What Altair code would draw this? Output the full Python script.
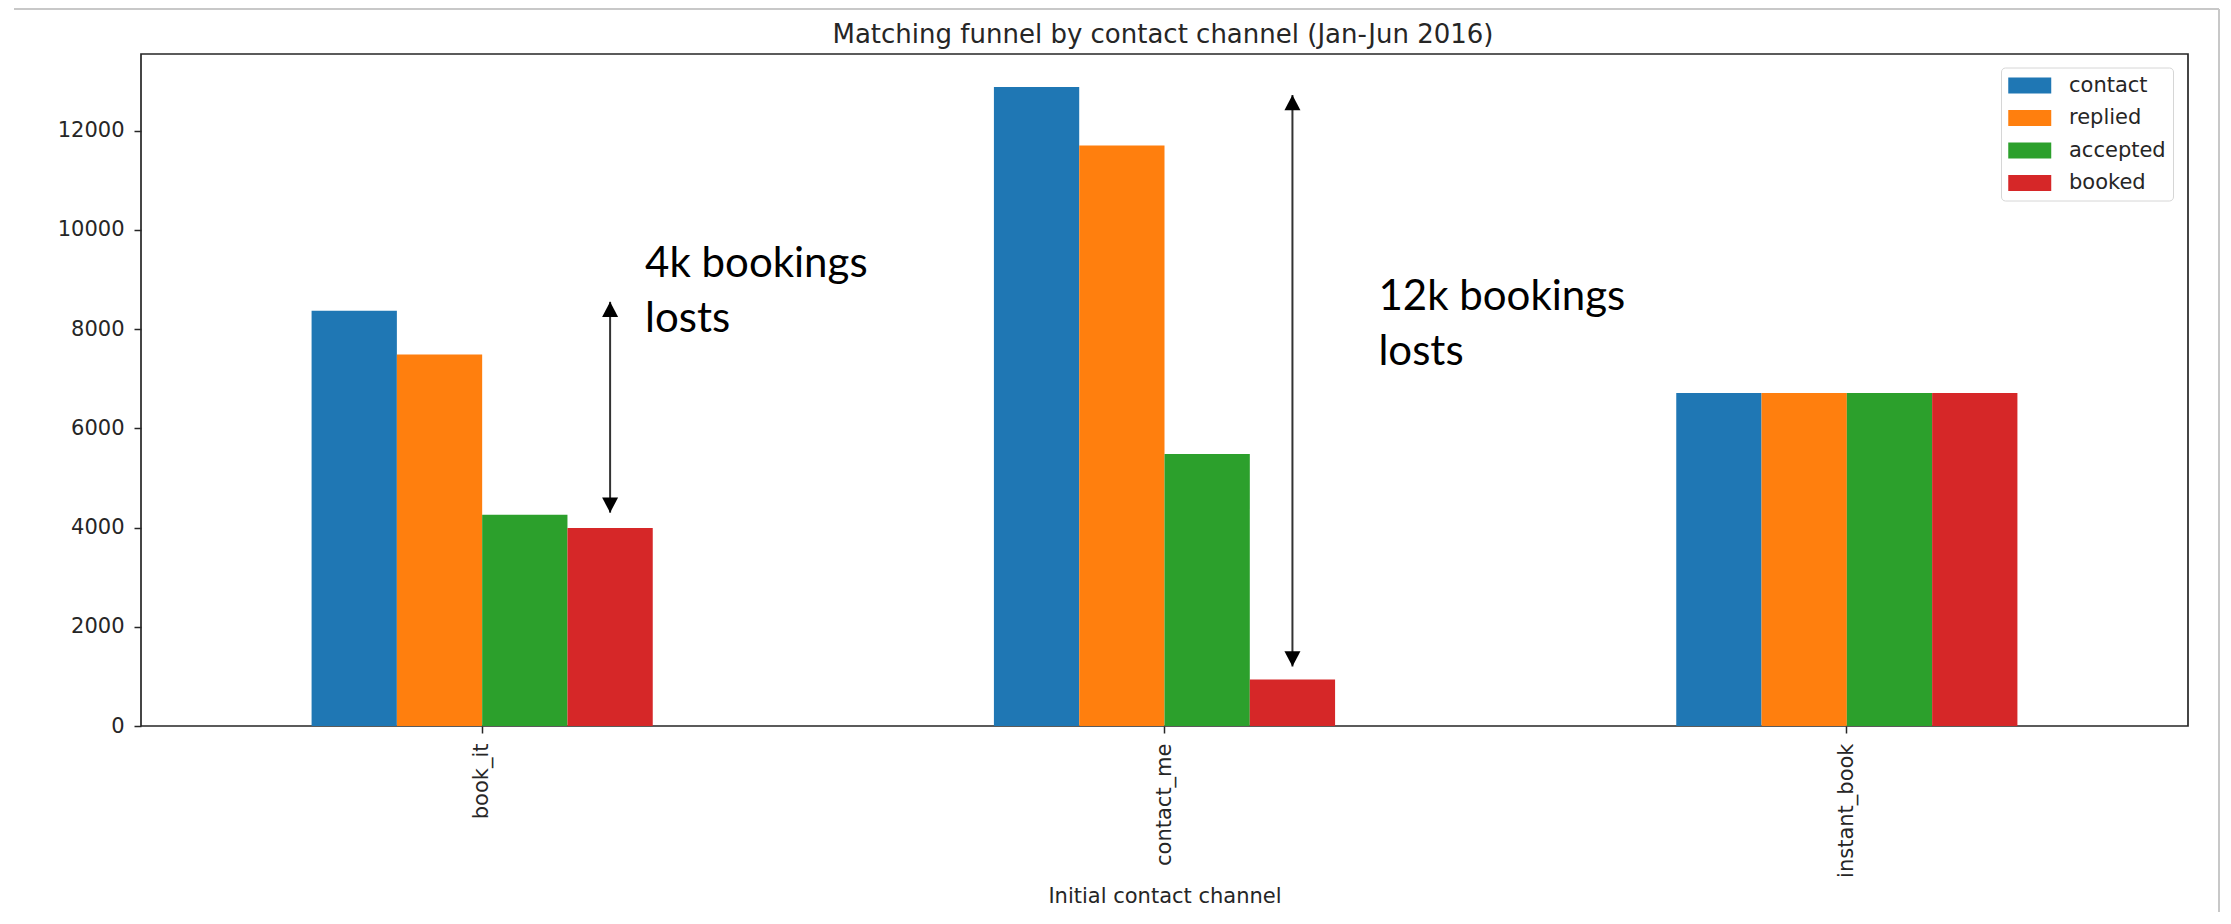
import altair as alt
import pandas as pd

# ---- data ----
channels = ["book_it", "contact_me", "instant_book"]
stages = ["contact", "replied", "accepted", "booked"]
contact = [8370, 12880, 6710]
replied = [7490, 11700, 6710]
accepted = [4260, 5480, 6710]
booked = [3990, 935, 6710]
stage_colors = ["#1f77b4", "#ff7f0e", "#2ca02c", "#d62728"]

y_ticks = [0, 2000, 4000, 6000, 8000, 10000, 12000]
y_max = 13545  # tallest bar + 5% margin

arrow_channels = ["book_it", "contact_me"]
arrow_stage = ["booked", "booked"]
arrow_low = [4300, 1200]
arrow_high = [8550, 12720]
note_labels = ["4k bookings\nlosts", "12k bookings\nlosts"]
note_y = [9050, 8390]

chart_title = ["Matching funnel by contact channel (Jan-Jun 2016)"]

# ---- tables ----
rows = []
for i, ch in enumerate(channels):
    for st, vals in zip(stages, [contact, replied, accepted, booked]):
        rows.append({"channel": ch, "stage": st, "count": vals[i]})
bars_df = pd.DataFrame(rows)

arrows_df = pd.DataFrame({
    "channel": arrow_channels,
    "stage": arrow_stage,
    "low": arrow_low,
    "high": arrow_high,
    "label": note_labels,
    "ty": note_y,
})

x_enc = alt.X(
    "channel:N",
    sort=channels,
    scale=alt.Scale(domain=channels, paddingInner=0.5, paddingOuter=0.25),
    axis=alt.Axis(labelAngle=-90, labelPadding=10, titlePadding=8),
    title="Initial contact channel",
)
xo_enc = alt.XOffset("stage:N", scale=alt.Scale(domain=stages, paddingInner=0, paddingOuter=0))
y_scale = alt.Scale(domain=[0, y_max], nice=False, zero=True)

bars = alt.Chart(bars_df).mark_bar().encode(
    x=x_enc,
    xOffset=xo_enc,
    y=alt.Y("count:Q", scale=y_scale,
            axis=alt.Axis(values=y_ticks, format="d", labelPadding=10), title=None),
    color=alt.Color(
        "stage:N",
        scale=alt.Scale(domain=stages, range=stage_colors),
        legend=alt.Legend(
            orient="none", legendX=1860, legendY=13.5, title=None,
            symbolType="M-1,-0.74H3V0.74H-1Z", symbolSize=462,
            symbolStrokeWidth=0, symbolOpacity=1,
            labelFont="DejaVu Sans", labelFontSize=21, labelColor="#262626",
            labelOffset=39, padding=7, rowPadding=11.5,
            strokeColor="#d6d6d6", fillColor="white", cornerRadius=4,
        ),
    ),
)

arrow_base = alt.Chart(arrows_df)
shaft = arrow_base.mark_rule(color="#333333", strokeWidth=2).encode(
    x=alt.X("channel:N"), xOffset=alt.XOffset("stage:N"),
    y=alt.Y("low:Q"), y2="high:Q",
)
head_up = arrow_base.mark_point(
    shape="M0,0L-1,1.9L1,1.9Z", size=256, filled=True, color="black", opacity=1, strokeWidth=0
).encode(x=alt.X("channel:N"), xOffset=alt.XOffset("stage:N"), y=alt.Y("high:Q"))
head_down = arrow_base.mark_point(
    shape="M0,0L-1,-1.9L1,-1.9Z", size=256, filled=True, color="black", opacity=1, strokeWidth=0
).encode(x=alt.X("channel:N"), xOffset=alt.XOffset("stage:N"), y=alt.Y("low:Q"))

note_style = dict(font="Lato", fontSize=42, align="left", baseline="alphabetic",
                  lineBreak="\n", lineHeight=55, color="black")
note1 = arrow_base.transform_filter(alt.datum.channel == "book_it").mark_text(dx=35, **note_style).encode(
    x=alt.X("channel:N"), xOffset=alt.XOffset("stage:N"), y=alt.Y("ty:Q"), text="label:N")
note2 = arrow_base.transform_filter(alt.datum.channel == "contact_me").mark_text(dx=86, **note_style).encode(
    x=alt.X("channel:N"), xOffset=alt.XOffset("stage:N"), y=alt.Y("ty:Q"), text="label:N")

title_df = pd.DataFrame({"t": chart_title})
title_mark = alt.Chart(title_df).mark_text(
    font="DejaVu Sans", fontSize=26, color="#262626", align="center", baseline="alphabetic"
).encode(x=alt.value(1022), y=alt.value(-11), text="t:N")

frame_df = pd.DataFrame({"a": [0]})
frame_top = alt.Chart(frame_df).mark_rule(color="#c8c8c8", strokeWidth=2).encode(
    x=alt.value(-127), x2=alt.value(2078), y=alt.value(-45))
frame_right = alt.Chart(frame_df).mark_rule(color="#c8c8c8", strokeWidth=2).encode(
    x=alt.value(2078), y=alt.value(-45), y2=alt.value(880))

chart = alt.layer(bars, shaft, head_up, head_down, note1, note2, title_mark, frame_top, frame_right).properties(
    width=2047,
    height=672,
    autosize=alt.AutoSizeParams(type="none"),
    padding={"left": 133, "top": 46, "right": 35, "bottom": 186},
).configure_view(
    stroke="#262626", strokeWidth=1.7,
).configure_axis(
    domain=False, grid=False, tickColor="#262626", tickSize=7, tickWidth=1.5,
    labelFont="DejaVu Sans", labelFontSize=21, labelColor="#262626",
    titleFont="DejaVu Sans", titleFontSize=21, titleFontWeight="normal", titleColor="#262626",
)

chart.save("out.html", embed_options={"renderer": "svg", "actions": False})
